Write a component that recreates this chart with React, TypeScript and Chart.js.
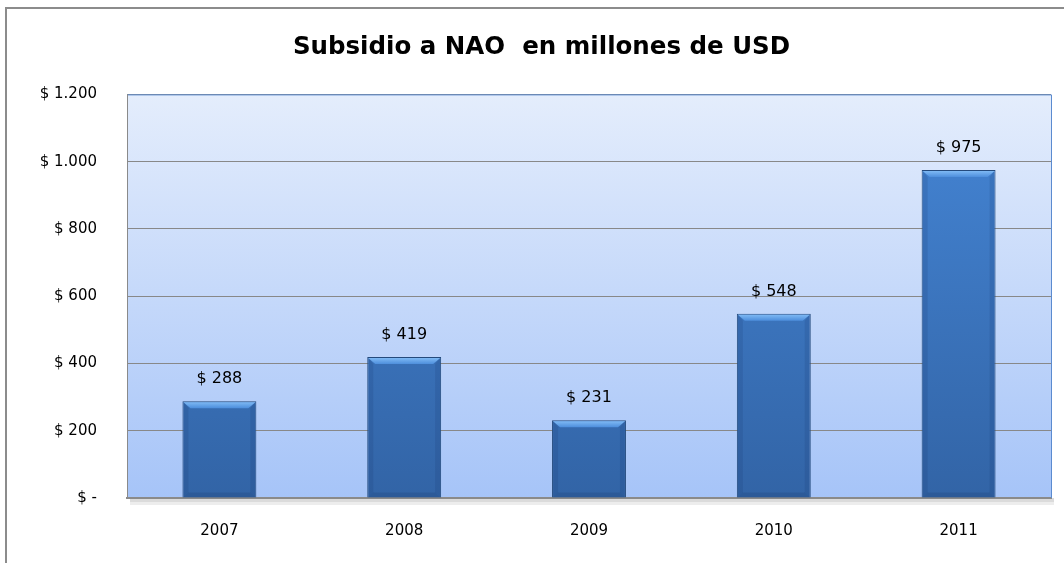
import React, { useEffect, useRef } from "react";
import { Chart, registerables } from "chart.js";

Chart.register(...registerables);

const TITLE = "Subsidio a NAO  en millones de USD";
const years = ["2007", "2008", "2009", "2010", "2011"];
const subsidy = [288, 419, 231, 548, 975];
const yMin = 0;
const yMax = 1200;
const yStep = 200;

const FONT = "'DejaVu Sans', 'Liberation Sans', Arial, sans-serif";

const fmtTick = (v: number) => {
  if (v === 0) return "$ -";
  return "$ " + v.toLocaleString("de-DE");
};

const plotBg = {
  id: "plotBg",
  beforeDraw(chart: any) {
    const { ctx, chartArea: a } = chart;
    if (!a) return;
    ctx.save();
    ctx.fillStyle = "rgba(0,0,0,0.14)";
    ctx.fillRect(a.left + 3, a.bottom, a.right - a.left, 4);
    ctx.fillStyle = "rgba(0,0,0,0.07)";
    ctx.fillRect(a.left + 3, a.bottom + 4, a.right - a.left, 3);
    const g = ctx.createLinearGradient(0, a.top, 0, a.bottom);
    g.addColorStop(0, "#e4edfc");
    g.addColorStop(1, "#a6c4f8");
    ctx.fillStyle = g;
    ctx.fillRect(a.left, a.top, a.right - a.left, a.bottom - a.top);
    ctx.restore();
  },
  afterDraw(chart: any) {
    const { ctx, chartArea: a } = chart;
    ctx.save();
    ctx.strokeStyle = "#5b8bd0";
    ctx.lineWidth = 1;
    ctx.beginPath();
    ctx.moveTo(a.left + 0.5, a.top + 0.5);
    ctx.lineTo(a.right + 0.5, a.top + 0.5);
    ctx.lineTo(a.right + 0.5, a.bottom);
    ctx.stroke();
    ctx.strokeStyle = "#8a8a8a";
    ctx.beginPath();
    ctx.moveTo(a.left + 0.5, a.top);
    ctx.lineTo(a.left + 0.5, a.bottom);
    ctx.stroke();
    ctx.restore();
  },
};

const barDeco = {
  id: "barDeco",
  afterDatasetsDraw(chart: any) {
    const { ctx } = chart;
    const meta = chart.getDatasetMeta(0);
    ctx.save();
    meta.data.forEach((bar: any, i: number) => {
      const { x, y, width, base } = bar.getProps(["x", "y", "width", "base"], true);
      const l = x - width / 2 + 1;
      const r = x + width / 2 - 1;
      const h = 7;
      const g = ctx.createLinearGradient(0, y, 0, y + h);
      g.addColorStop(0, "#86c0f8");
      g.addColorStop(1, "#4d8edc");
      ctx.fillStyle = g;
      ctx.beginPath();
      ctx.moveTo(l, y + 1);
      ctx.lineTo(r, y + 1);
      ctx.lineTo(r - h, y + h);
      ctx.lineTo(l + h, y + h);
      ctx.closePath();
      ctx.fill();
      ctx.fillStyle = "rgba(20,50,100,0.15)";
      ctx.beginPath();
      ctx.moveTo(l, y + 1);
      ctx.lineTo(l + 5, y + h);
      ctx.lineTo(l + 5, base - 5);
      ctx.lineTo(l, base);
      ctx.closePath();
      ctx.fill();
      ctx.beginPath();
      ctx.moveTo(r, y + 1);
      ctx.lineTo(r - 5, y + h);
      ctx.lineTo(r - 5, base - 5);
      ctx.lineTo(r, base);
      ctx.closePath();
      ctx.fill();
      ctx.fillStyle = "rgba(20,50,100,0.2)";
      ctx.beginPath();
      ctx.moveTo(l, base);
      ctx.lineTo(l + 5, base - 5);
      ctx.lineTo(r - 5, base - 5);
      ctx.lineTo(r, base);
      ctx.closePath();
      ctx.fill();
      ctx.fillStyle = "#000";
      ctx.font = "16px " + FONT;
      ctx.textAlign = "center";
      ctx.textBaseline = "middle";
      ctx.fillText("$ " + subsidy[i], x, y - 22);
    });
    ctx.restore();
  },
};

export default function App() {
  const ref = useRef<HTMLCanvasElement>(null);
  useEffect(() => {
    if (!ref.current) return;
    const chart = new Chart(ref.current, {
      type: "bar",
      data: {
        labels: years,
        datasets: [
          {
            data: subsidy,
            backgroundColor: (c: any) => {
              const a = c.chart.chartArea;
              if (!a) return "#3c74bf";
              const g = c.chart.ctx.createLinearGradient(0, a.top, 0, a.bottom);
              g.addColorStop(0, "#4586d6");
              g.addColorStop(1, "#3264a6");
              return g;
            },
            borderColor: "#244a7c",
            borderWidth: 1,
            barPercentage: 0.4,
            categoryPercentage: 1,
          },
        ],
      },
      options: {
        animation: false,
        responsive: false,
        maintainAspectRatio: false,
        layout: { padding: { left: 32, right: 13, top: 0, bottom: 0 } },
        plugins: {
          legend: { display: false },
          tooltip: { enabled: false },
          title: {
            display: true,
            text: TITLE,
            color: "#000",
            font: { family: FONT, size: 24.5, weight: "bold" },
            padding: { top: 33, bottom: 32 },
          },
        },
        scales: {
          x: {
            grid: { display: false, drawTicks: false },
            border: { display: true, color: "#8a8a8a", width: 2 },
            ticks: {
              color: "#000",
              padding: 24,
              font: { family: FONT, size: 15 },
            },
            afterFit: (s: any) => {
              s.height = 65;
            },
          },
          y: {
            min: yMin,
            max: yMax,
            grid: { color: (c: any) => (c.tick.value === 0 ? "rgba(0,0,0,0)" : "#888888"), lineWidth: 1, drawTicks: false },
            border: { display: false },
            ticks: {
              stepSize: yStep,
              color: "#000",
              padding: 30,
              font: { family: FONT, size: 15 },
              callback: (v: any) => fmtTick(Number(v)),
            },
            afterFit: (s: any) => {
              s.width = 95;
            },
          },
        },
      },
      plugins: [plotBg, barDeco],
    });
    return () => chart.destroy();
  }, []);

  return (
    <div style={{ position: "absolute", left: 0, top: 0, width: 1064, height: 563, overflow: "hidden", background: "#fff" }}>
      <div
        style={{
          position: "absolute",
          left: 5,
          top: 7,
          width: 1100,
          height: 600,
          borderLeft: "2px solid #8c8c8c",
          borderTop: "2px solid #8c8c8c",
        }}
      />
      <canvas ref={ref} width={1064} height={563} style={{ position: "absolute", left: 0, top: 0, width: 1064, height: 563 }} />
    </div>
  );
}
